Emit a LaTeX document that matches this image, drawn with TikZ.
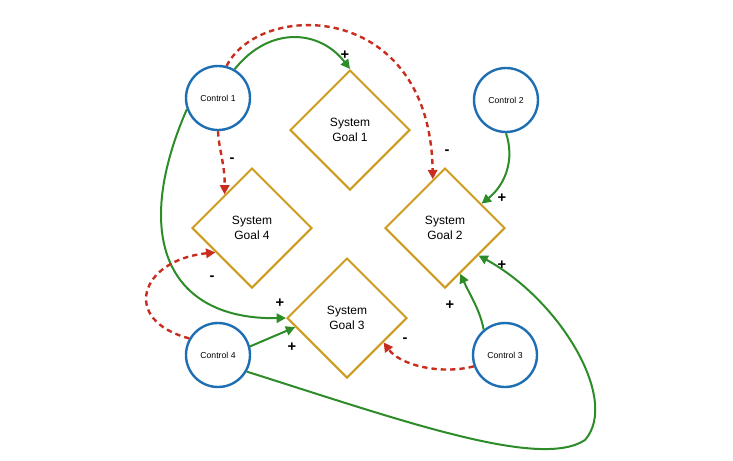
\documentclass[tikz,border=0pt]{standalone}
\usepackage{fontspec}
\setmainfont{Liberation Sans}
\usetikzlibrary{shapes.geometric,arrows.meta,calc}
\definecolor{cblue}{RGB}{30,110,180}
\definecolor{cgold}{RGB}{205,155,30}
\definecolor{cgreen}{RGB}{45,140,40}
\definecolor{cred}{RGB}{200,45,30}
\begin{document}
\begin{tikzpicture}[x=0.75pt,y=-0.75pt,
  ctrl/.style={circle,draw=cblue,line width=1.8pt,minimum size=48pt,inner sep=0,font=\fontsize{6.5}{7}\selectfont,fill=white},
  goal/.style={diamond,draw=cgold,line width=1.5pt,minimum width=90pt,minimum height=90pt,inner sep=0,align=center,font=\fontsize{9}{11}\selectfont},
  posarrow/.style={draw=cgreen,line width=1.5pt,-{Triangle[length=7pt,width=7pt]}},
  negarrow/.style={draw=cred,line width=1.8pt,dash pattern=on 4pt off 3pt,-{Triangle[length=7pt,width=7pt]}},
  sgn/.style={font=\bfseries\fontsize{11}{11}\selectfont}]
\useasboundingbox (0,0) rectangle (733,461);
\node[goal] (g1) at (350,130) {System\\Goal 1};
\node[goal] (g4) at (252,228) {System\\Goal 4};
\node[goal] (g2) at (445,228) {System\\Goal 2};
\node[goal] (g3) at (347,318) {System\\Goal 3};
\node[ctrl] (c1) at (218,98) {Control 1};
\node[ctrl] (c2) at (506,100) {Control 2};
\node[ctrl] (c4) at (218,355) {Control 4};
\node[ctrl] (c3) at (505,355) {Control 3};
% arrows
\draw[posarrow] (c1.60) .. controls (270,25) and (320,30) .. (g1.north);
\draw[negarrow] (c1.75) .. controls (260,0) and (430,0) .. ($(g2.north)!0.2!(g2.west)$);
\draw[negarrow] (c1.-90) .. controls (219,150) and (225,165) .. ($(g4.north)!0.45!(g4.west)$);
\draw[posarrow] (c1.200) .. controls (130,240) and (170,320) .. (g3.west);
\draw[posarrow] (c2.-90) .. controls (515,160) and (505,185) .. ($(g2.north)!0.6!(g2.east)$);
\draw[negarrow] (c4.150) .. controls (120,320) and (140,260) .. ($(g4.west)!0.4!(g4.south)$);
\draw[posarrow] (c4.15) -- ($(g3.west)!0.15!(g3.south)$);
\draw[posarrow] (c4.-30) .. controls (400,420) and (540,470) .. (585,440) .. controls (620,400) and (560,300) .. ($(g2.east)!0.45!(g2.south)$);
\draw[posarrow] (c3.130) .. controls (480,310) and (470,295) .. ($(g2.east)!0.75!(g2.south)$);
\draw[negarrow] (c3.-160) .. controls (440,375) and (400,365) .. ($(g3.east)!0.4!(g3.south)$);
% signs
\node[sgn] (s1) at (345,55) {+};
\node[sgn] (s2) at (447,152) {-};
\node[sgn] (s3) at (232,160) {-};
\node[sgn] (s4) at (280,303) {+};
\node[sgn] (s5) at (502,198) {+};
\node[sgn] (s6) at (212,278) {-};
\node[sgn] (s7) at (292,347) {+};
\node[sgn] (s8) at (502,265) {+};
\node[sgn] (s9) at (450,305) {+};
\node[sgn] (s10) at (405,340) {-};
\end{tikzpicture}
\end{document}
